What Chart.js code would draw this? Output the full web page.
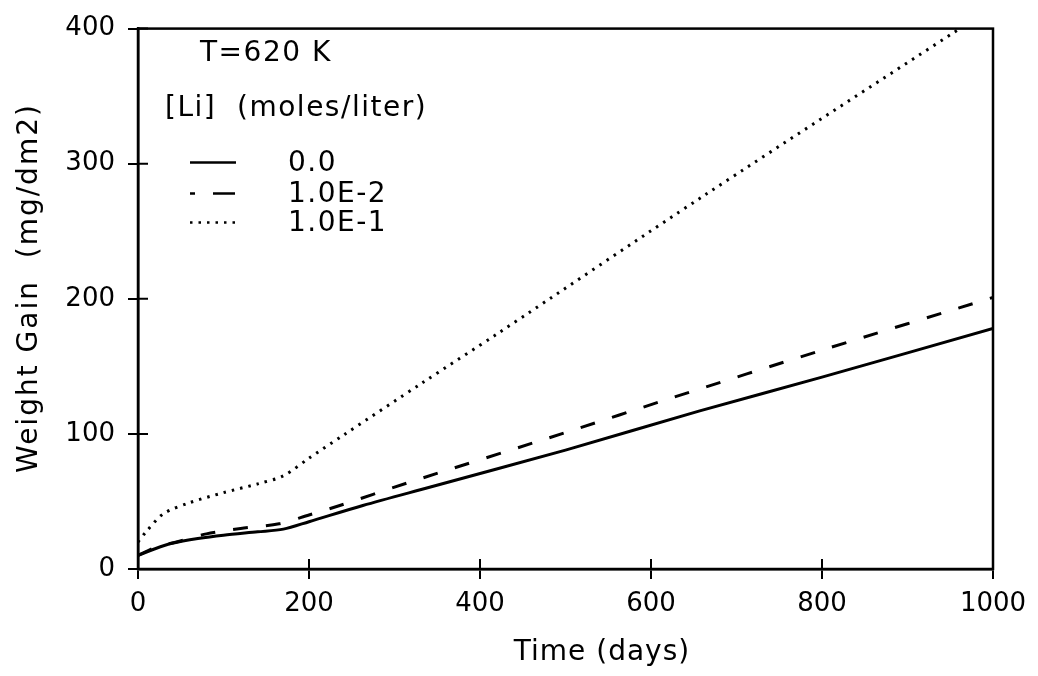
<!DOCTYPE html>
<html lang="en">
<head>
    <meta charset="UTF-8">
    <title>Weight Gain vs Time, T=620 K</title>
    <script src="https://cdn.jsdelivr.net/npm/chart.js"></script>
    <style>
        body { margin: 0; background: #fff; }
        #wrap { width: 1038px; height: 676px; }
    </style>
</head>
<body>
<div id="wrap"><canvas id="gainChart" width="1038" height="676"></canvas></div>
<script>
    // values
    const seriesLabels = ['0.0', '1.0E-2', '1.0E-1'];

    const daysLi0 = [0, 20, 40, 70, 100, 140, 170, 200, 263, 341, 500, 657, 800, 1000];
    const gainLi0 = [10, 15, 19, 22.5, 25, 27.5, 29.5, 35, 47, 60.5, 88, 117, 142, 178];

    const daysLi2 = [0, 20, 45, 80, 120, 165, 200, 236, 314, 500, 626, 800, 1000];
    const gainLi2 = [10, 16, 20, 26, 30, 33.5, 40, 47, 63.5, 101, 127, 162, 201];

    const daysLi1 = [0, 10, 30, 60, 100, 140, 170, 200, 240, 333, 420, 661, 1000];
    const gainLi1 = [20, 28, 41, 49, 56.5, 63, 69, 82, 99, 138, 174, 276, 416];

    const xTicks = [0, 200, 400, 600, 800, 1000];
    const yTicks = [0, 100, 200, 300, 400];

    const FONT = 'DejaVu Sans';

    function pts(xs, ys) {
        return xs.map((x, i) => ({ x: x, y: ys[i] }));
    }

    const datasets = [
        { label: seriesLabels[0], data: pts(daysLi0, gainLi0), borderDash: [] },
        { label: seriesLabels[1], data: pts(daysLi2, gainLi2), borderDash: [15, 18] },
        { label: seriesLabels[2], data: pts(daysLi1, gainLi1), borderDash: [2.5, 6] }
    ].map(d => Object.assign(d, {
        borderColor: '#000',
        borderWidth: 3,
        pointRadius: 0,
        tension: 0.3,
        fill: false
    }));

    // frame, inner tick marks, axis titles and the in-plot legend
    const framePlugin = {
        id: 'frame',
        afterDraw(chart) {
            const { ctx, chartArea: a, scales } = chart;
            ctx.save();
            ctx.strokeStyle = '#000';
            ctx.lineWidth = 2.5;
            ctx.strokeRect(a.left, a.top, a.right - a.left, a.bottom - a.top);

            ctx.lineWidth = 2;
            ctx.beginPath();
            xTicks.forEach(v => {
                const px = scales.x.getPixelForValue(v);
                ctx.moveTo(px, a.bottom);
                ctx.lineTo(px, a.bottom - 10);
            });
            yTicks.forEach(v => {
                const py = scales.y.getPixelForValue(v);
                ctx.moveTo(a.left, py);
                ctx.lineTo(a.left + 10, py);
            });
            ctx.stroke();

            ctx.fillStyle = '#000';
            ctx.textBaseline = 'middle';

            // axis titles
            ctx.font = '28px "' + FONT + '"';
            ctx.letterSpacing = '1px';
            ctx.textAlign = 'center';
            ctx.fillText('Time (days)', 602, 653);
            ctx.save();
            ctx.translate(30, 288);
            ctx.rotate(-Math.PI / 2);
            ctx.letterSpacing = '2px';
            ctx.fillText('Weight Gain  (mg/dm2)', 0, 0);
            ctx.restore();

            // legend block
            ctx.textAlign = 'left';
            ctx.letterSpacing = '1.5px';
            ctx.fillText('T=620 K', a.left + 62, a.top + 25);
            ctx.fillText('[Li]  (moles/liter)', a.left + 27, a.top + 80);

            const rowY = [134, 165, 194];
            chart.data.datasets.forEach((ds, i) => {
                const y = a.top + rowY[i];
                ctx.save();
                ctx.lineWidth = 2.5;
                ctx.setLineDash(i === 1 ? [5, 18, 22] : ds.borderDash);
                ctx.beginPath();
                ctx.moveTo(a.left + 52, y);
                ctx.lineTo(a.left + 98, y);
                ctx.stroke();
                ctx.restore();
                ctx.fillText(ds.label, a.left + 150, y + 1);
            });
            ctx.restore();
        }
    };

    const tickFont = { family: FONT, size: 26 };

    const config = {
        type: 'line',
        data: { datasets: datasets },
        options: {
            responsive: false,
            animation: false,
            layout: { padding: { top: 28, right: 45, left: 0, bottom: 0 } },
            plugins: {
                legend: { display: false },
                tooltip: { enabled: false }
            },
            scales: {
                x: {
                    type: 'linear',
                    min: 0,
                    max: 1000,
                    afterFit: s => { s.height = 107; },
                    afterBuildTicks: s => { s.ticks = xTicks.map(v => ({ value: v })); },
                    grid: { drawOnChartArea: false, tickLength: 10, color: '#000', lineWidth: 2 },
                    border: { color: '#000', width: 2.5 },
                    ticks: {
                        color: '#000', font: tickFont, padding: 10, maxRotation: 0,
                        callback: v => String(v)
                    }
                },
                y: {
                    min: 0,
                    max: 400,
                    afterFit: s => { s.width = 138; },
                    afterBuildTicks: s => { s.ticks = yTicks.map(v => ({ value: v })); },
                    grid: { drawOnChartArea: false, tickLength: 10, color: '#000', lineWidth: 2 },
                    border: { color: '#000', width: 2.5 },
                    ticks: {
                        color: '#000', font: tickFont, padding: 13,
                        callback: v => String(v)
                    }
                }
            }
        },
        plugins: [framePlugin]
    };

    const gainChart = new Chart(document.getElementById('gainChart').getContext('2d'), config);
</script>
</body>
</html>
